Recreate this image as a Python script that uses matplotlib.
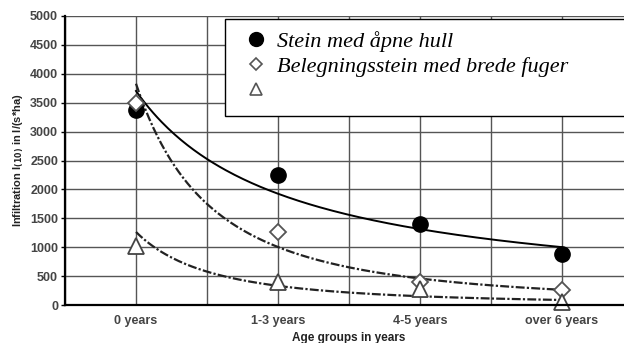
import numpy as np
import matplotlib.pyplot as plt
from matplotlib.lines import Line2D
from matplotlib.patches import Rectangle

# Aldersgrupper og målt infiltrasjon (l/(s*ha))
kategorier = ['0 years', '1-3 years', '4-5 years', 'over 6 years']
stein_hull = [3380, 2250, 1400, 880]
belegning_fuger = [3500, 1270, 400, 260]
tredje_type = [1020, 400, 270, 50]

yticks = list(range(0, 5001, 500))

x = np.arange(1, len(kategorier) + 1)


def potens_trend(xv, yv):
    # potenstrendlinje y = a * x^b, tilpasset i log-rom
    b, ln_a = np.polyfit(np.log(xv), np.log(yv), 1)
    xs = np.linspace(xv[0], xv[-1], 200)
    return xs, np.exp(ln_a) * xs ** b


fig = plt.figure(figsize=(6.24, 3.43), dpi=100)
ax = fig.add_axes([65 / 624, 38 / 343, (633 - 65) / 624, 289 / 343])

ax.set_xlim(0.5, 4.5)
ax.set_ylim(0, 5000)

# rutenett
for gx in np.arange(0.5, 4.51, 0.5):
    ax.axvline(gx, color='#555555', lw=1.0, zorder=1)
for gy in yticks[1:]:
    ax.axhline(gy, color='#555555', lw=1.0, zorder=1)

# trendlinjer
xs, ys = potens_trend(x, stein_hull)
ax.plot(xs, ys, color='black', lw=1.4, zorder=3)
xs, ys = potens_trend(x, belegning_fuger)
ax.plot(xs, ys, color='#222222', lw=1.6, dashes=(4, 1, 1, 1), zorder=3)
xs, ys = potens_trend(x, tredje_type)
ax.plot(xs, ys, color='#222222', lw=1.6, dashes=(4, 1, 1, 1), zorder=3)

# målepunkter
ax.plot(x, stein_hull, 'o', ms=11, color='black', zorder=4, clip_on=False)
ax.plot(x, belegning_fuger, 'D', ms=8, mfc='white', mec='#555555', mew=1.3,
        zorder=5, clip_on=False)
ax.plot(x, tredje_type, '^', ms=11, mfc='white', mec='#444444', mew=1.3,
        zorder=5, clip_on=False)

ax.set_xticks(x)
ax.set_xticklabels(kategorier)
ax.set_yticks(yticks)
ax.tick_params(axis='x', length=0, pad=7, labelsize=9, labelcolor='#444444')
ax.tick_params(axis='y', length=3, width=1, pad=2, labelsize=9, labelcolor='#444444')
for lab in ax.get_xticklabels() + ax.get_yticklabels():
    lab.set_fontweight('bold')
    lab.set_family('Liberation Sans')

for side in ['top', 'right']:
    ax.spines[side].set_visible(False)
for side in ['left', 'bottom']:
    ax.spines[side].set_linewidth(1.6)
    ax.spines[side].set_zorder(6)

ax.set_xlabel('Age groups in years', fontsize=8.5, fontweight='bold',
              family='Liberation Sans', color='#222222', labelpad=4)
ax.set_ylabel('Infiltration I$_{\\mathbf{(10)}}$ in l/(s*ha)', fontsize=8,
              fontweight='bold', family='Liberation Sans', color='#222222',
              labelpad=3)

# tegnforklaring i ramme
fig.patches.append(Rectangle((225 / 624, 1 - 116 / 343), 0.8, 97 / 343,
                             transform=fig.transFigure, facecolor='white',
                             edgecolor='black', lw=1.0, zorder=1))
handles = [
    Line2D([], [], ls='none', marker='o', ms=10, color='black'),
    Line2D([], [], ls='none', marker='D', ms=6, mfc='white', mec='#555555', mew=1.2),
    Line2D([], [], ls='none', marker='^', ms=8, mfc='white', mec='#555555', mew=1.2),
]
labels = ['Stein med åpne hull', 'Belegningsstein med brede fuger', '']
fig.legend(handles, labels, loc='upper left', bbox_to_anchor=(245 / 624, 1 - 31 / 343),
           frameon=False, handlelength=1.0, handletextpad=0.45, labelspacing=0.2,
           borderpad=0, borderaxespad=0,
           prop={'family': 'Liberation Serif', 'style': 'italic', 'size': 16})

fig.savefig('out.png', dpi=100)
